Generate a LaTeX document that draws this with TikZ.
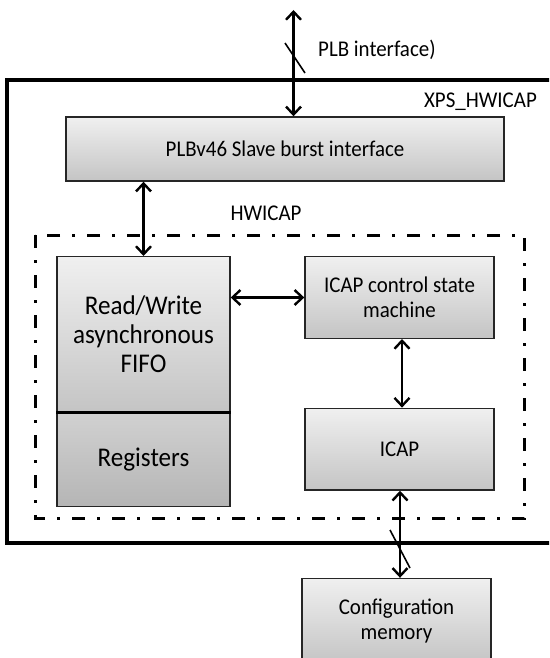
\documentclass[tikz,border=0pt]{standalone}
\usepackage{fontspec}
\setmainfont{Carlito}[FakeStretch=0.93]
\usetikzlibrary{arrows.meta}
\tikzset{
  blockbox/.style={draw=black!85, line width=1.4pt, shade, top color=black!6, bottom color=black!23,
    inner sep=0pt, align=center, font=\fontsize{22.5}{25}\selectfont},
  regbox/.style={blockbox, top color=black!18, bottom color=black!29},
  bigtext/.style={font=\fontsize{27}{29}\selectfont},
  barb/.tip={Straight Barb[length=8pt,width=15pt,line width=2.4pt]},
  link/.style={line width=2.4pt, barb-barb},
  buswidth/.style={line width=1.6pt},
  plaintext/.style={font=\fontsize{22.5}{25}\selectfont, inner sep=0pt},
}
\begin{document}
\begin{tikzpicture}[x=1pt,y=-1pt]
\clip (0,0) rectangle (549,658);
\fill[white] (0,0) rectangle (549,658);

% outer XPS_HWICAP frame (open to the right)
\draw[line width=3.6pt] (552,80) -- (7,80) -- (7,543) -- (552,543);
\node[plaintext, anchor=east] (xpslbl) at (537,102) {XPS\_HWICAP};

% HWICAP dash-dot region
\draw[line width=3pt, dash pattern=on 13pt off 12pt on 3pt off 12pt] (35,235) rectangle (524.5,518);
\node[plaintext] (hwlbl) at (266,213) {HWICAP};

% blocks
\node[blockbox, minimum width=438pt, minimum height=64pt] (plb) at (285,149) {PLBv46 Slave burst interface};
\node[blockbox, bigtext, minimum width=173pt, minimum height=155.3pt] (fifo) at (143.5,334.35) {Read/Write\\asynchronous\\FIFO};
\node[regbox, bigtext, minimum width=173pt, minimum height=94.7pt] (regs) at (143.5,459.35) {Registers};
\draw[line width=2.6pt] (fifo.south west) -- (fifo.south east);
\node[blockbox, minimum width=189pt, minimum height=81.6pt] (ctrl) at (399.5,297.5) {ICAP control state\\machine};
\node[blockbox, minimum width=189pt, minimum height=81.7pt] (icap) at (399.5,449.2) {ICAP};
\node[blockbox, minimum width=189pt, minimum height=85pt] (cfg) at (396.5,621) {Configuration\\memory};

% external bus
\coordinate (busend) at (293.5,10);
\node[plaintext, anchor=west] (buslbl) at (318,50) {PLB interface)};
\draw[link] (busend) -- (busend |- plb.north);
\draw[buswidth] (285,43) -- (305,73);

% internal connections
\draw[link] (fifo.north) -- (fifo.north |- plb.south);
\draw[link] (fifo.east |- 0,297.5) -- (ctrl.west |- 0,297.5);
\draw[link] (ctrl.south -| 402,0) -- (icap.north -| 402,0);
\draw[link] (icap.south -| 400,0) -- (cfg.north -| 400,0);
\draw[buswidth] (390,530) -- (410,568);
\end{tikzpicture}
\end{document}
